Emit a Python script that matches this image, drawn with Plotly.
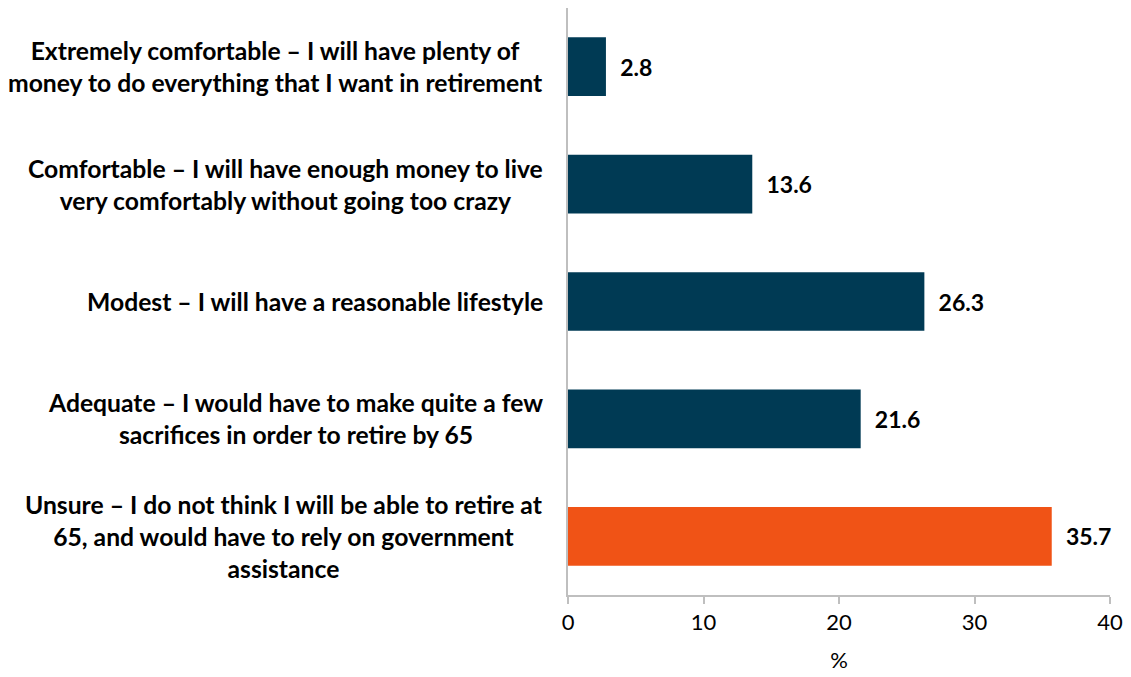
import plotly.graph_objects as go

# Retirement lifestyle expectations, share of respondents (%)
categories = [
    "Extremely comfortable – I will have plenty of<br>money to do everything that I want in retirement",
    "Comfortable – I will have enough money to live<br>very comfortably without going too crazy",
    "Modest – I will have a reasonable lifestyle",
    "Adequate – I would have to make quite a few<br>sacrifices in order to retire by 65",
    "Unsure – I do not think I will be able to retire at<br>65, and would have to rely on government<br>assistance",
]
values = [2.8, 13.6, 26.3, 21.6, 35.7]
bar_colors = ["#003A54", "#003A54", "#003A54", "#003A54", "#F05316"]
x_ticks = [0, 10, 20, 30, 40]

FONT = "Lato, Calibri, Arial, sans-serif"

fig = go.Figure(
    go.Bar(
        y=list(range(len(categories))),
        x=values,
        orientation="h",
        marker=dict(color=bar_colors, line=dict(width=0)),
        width=0.5,
        text=[f"{v:.1f}" for v in values],
        texttemplate="  %{text}",
        textposition="outside",
        textfont=dict(family=FONT, size=23, color="#000000", weight="bold"),
        cliponaxis=False,
        hoverinfo="skip",
    )
)

# Centred, multi-line category labels to the left of the axis
for i, label in enumerate(categories):
    fig.add_annotation(
        xref="paper", yref="y", x=0, y=i,
        text=f"<b>{label}</b>",
        showarrow=False, xanchor="right", yanchor="middle",
        align="center", xshift=-23,
        font=dict(family=FONT, size=24.7, color="#000000"),
    )

fig.update_layout(
    width=1131, height=677,
    margin=dict(l=568, r=17, t=8, b=80),
    paper_bgcolor="white", plot_bgcolor="white",
    showlegend=False,
    xaxis=dict(
        range=[0, 40], tickvals=x_ticks,
        showgrid=False, zeroline=False,
        showline=True, linecolor="#BFBFBF", linewidth=2,
        ticks="outside", ticklen=7, tickcolor="#BFBFBF", tickwidth=2,
        tickfont=dict(family=FONT, size=22, color="#000000"),
        title=dict(text="%", font=dict(family=FONT, size=22, color="#000000"), standoff=18),
    ),
    yaxis=dict(
        range=[4.5, -0.5], showticklabels=False,
        showgrid=False, zeroline=False,
        showline=True, linecolor="#BFBFBF", linewidth=2, ticks="",
    ),
)

fig.write_html("out.html")
